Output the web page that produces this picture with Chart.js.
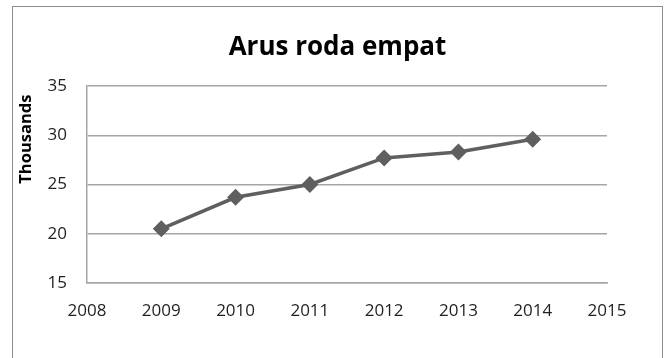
<!DOCTYPE html>
<html>
<head>
<meta charset="utf-8">
<script src="https://cdn.jsdelivr.net/npm/chart.js@4.4.1/dist/chart.umd.min.js"></script>
<style>
  html, body { margin: 0; padding: 0; background: #ffffff; overflow: hidden; }
  #frame {
    position: absolute; left: 12px; top: 6px;
    width: 649px; height: 400px;
    border: 1px solid #8c8c8c;
  }
  #wrap { position: absolute; left: 0; top: 0; width: 649px; height: 351px; }
</style>
</head>
<body>
<div id="frame">
  <div id="wrap"><canvas id="grafico"></canvas></div>
</div>
<script>
// Datos del gráfico (en miles)
const years = [2009, 2010, 2011, 2012, 2013, 2014];
const arusValues = [20.5, 23.7, 25.0, 27.7, 28.3, 29.6];
const yTicks = [15, 20, 25, 30, 35];
const xTicks = [2008, 2009, 2010, 2011, 2012, 2013, 2014, 2015];
const chartTitle = "Arus roda empat";
const yTitle = "Thousands";

const points = years.map((y, i) => ({ x: y, y: arusValues[i] }));
const txt = "#1f1f1f";
const fuente = "'Open Sans'";

new Chart(document.getElementById("grafico"), {
    type: "scatter",
    data: {
        datasets: [{
            label: chartTitle,
            data: points,
            showLine: true,
            borderColor: "#5f5f5f",
            backgroundColor: "#5f5f5f",
            borderWidth: 3.5,
            pointStyle: "rectRot",
            pointRadius: 6,
            pointHoverRadius: 6
        }]
    },
    options: {
        responsive: true,
        maintainAspectRatio: false,
        animation: false,
        layout: { padding: 0 },
        plugins: {
            legend: { display: false },
            tooltip: { enabled: false },
            title: {
                display: true,
                text: chartTitle,
                color: "#000000",
                font: { family: fuente, size: 26, weight: "bold" },
                padding: { top: 25, bottom: 22.8 }
            }
        },
        scales: {
            x: {
                type: "linear",
                min: xTicks[0],
                max: xTicks[xTicks.length - 1],
                afterBuildTicks: s => { s.ticks = xTicks.map(v => ({ value: v })); },
                afterFit: s => { s.height = 75; },
                grid: { display: false, drawTicks: false },
                border: { display: true, color: "#a6a6a6", width: 1.5 },
                ticks: {
                    color: txt,
                    padding: 18,
                    font: { family: fuente, size: 17 },
                    callback: v => String(v)
                }
            },
            y: {
                min: yTicks[0],
                max: yTicks[yTicks.length - 1],
                afterBuildTicks: s => { s.ticks = yTicks.map(v => ({ value: v })); },
                afterFit: s => { s.width = 74; },
                grid: { color: "#a6a6a6", lineWidth: 1.5, drawTicks: false },
                border: { display: true, color: "#a6a6a6", width: 1.5 },
                ticks: {
                    color: txt,
                    padding: 20,
                    font: { family: fuente, size: 17 }
                },
                title: {
                    display: true,
                    text: yTitle + "  ",
                    align: "end",
                    color: "#000000",
                    font: { family: fuente, size: 16.5, weight: "bold" },
                    padding: { top: 3, bottom: 0 }
                }
            },
            // eje vacío a la derecha, solo reserva espacio
            derecha: {
                position: "right",
                min: 0,
                max: 1,
                afterFit: s => { s.width = 55; },
                grid: { display: false, drawTicks: false },
                border: { display: false },
                ticks: { display: false }
            }
        }
    }
});
</script>
</body>
</html>
